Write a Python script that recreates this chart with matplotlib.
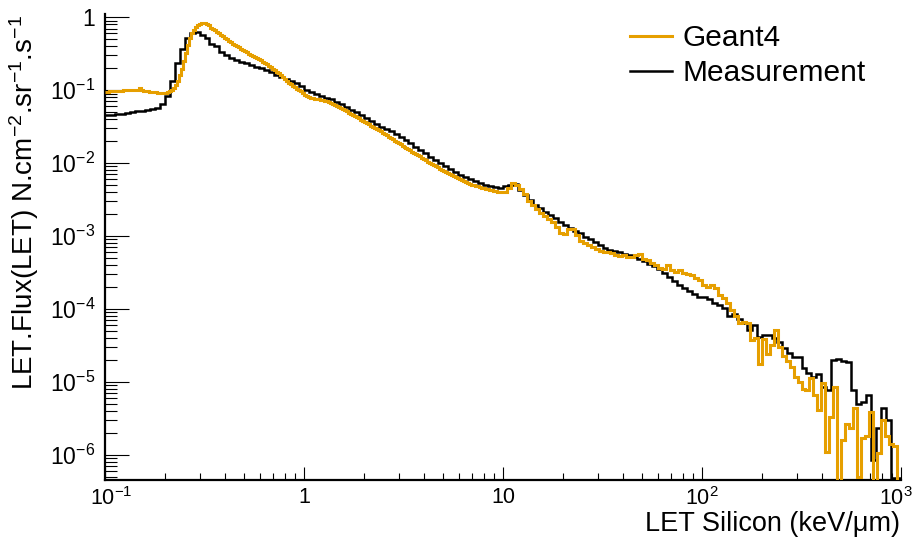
import numpy as np
import matplotlib
matplotlib.use("Agg")
import matplotlib.pyplot as plt
import matplotlib.transforms as mtransforms
from matplotlib.lines import Line2D
from matplotlib.ticker import FixedLocator, FixedFormatter, LogLocator, NullFormatter

plt.rcParams['font.family'] = ['Liberation Sans', 'DejaVu Sans']
plt.rcParams['mathtext.fontset'] = 'custom'
plt.rcParams['mathtext.rm'] = 'Liberation Sans'
plt.rcParams['mathtext.it'] = 'Liberation Sans:italic'
plt.rcParams['mathtext.bf'] = 'Liberation Sans:bold'

# ---------------- data ----------------
series_names = ["Geant4", "Measurement"]
x_label = "LET Silicon (keV/μm)"
y_label = "LET.Flux(LET) N.cm$^{-2}$.sr$^{-1}$.s$^{-1}$"

x_tick_values = [0.1, 1, 10, 100, 1000]
x_tick_labels = ["$10^{-1}$", "1", "10", "$10^{2}$", "$10^{3}$"]
y_tick_values = [1e-6, 1e-5, 1e-4, 1e-3, 1e-2, 1e-1, 1]
y_tick_labels = ["$10^{-6}$", "$10^{-5}$", "$10^{-4}$", "$10^{-3}$", "$10^{-2}$", "$10^{-1}$", "1"]

# histogram binning (LET range, log-spaced bins)
let_min, let_mid, let_max = 0.1, 10.0, 1000.0
meas_bins_per_decade = 40
g4_bins_per_decade_low = 100   # 0.1 - 10 keV/um
g4_bins_per_decade_high = 50   # 10 - 1000 keV/um

# Measurement: bin contents, one list per decade of LET
meas_dec1 = [4.57e-2, 4.62e-2, 4.68e-2, 4.79e-2, 4.90e-2, 5.01e-2, 5.13e-2, 5.25e-2, 5.37e-2, 5.50e-2,
             5.69e-2, 6.46e-2, 8.32e-2, 1.32e-1, 2.34e-1, 3.63e-1, 5.13e-1, 6.17e-1, 6.31e-1, 5.75e-1,
             5.13e-1, 4.37e-1, 3.98e-1, 3.39e-1, 3.05e-1, 2.75e-1, 2.60e-1, 2.45e-1, 2.34e-1, 2.21e-1,
             2.09e-1, 2.00e-1, 1.88e-1, 1.76e-1, 1.62e-1, 1.53e-1, 1.43e-1, 1.33e-1, 1.24e-1, 1.15e-1]
meas_dec2 = [1.00e-1, 9.33e-2, 8.81e-2, 8.32e-2, 7.94e-2, 7.50e-2, 6.92e-2, 6.38e-2, 5.89e-2, 5.43e-2,
             5.01e-2, 4.62e-2, 4.17e-2, 3.80e-2, 3.47e-2, 3.16e-2, 2.95e-2, 2.72e-2, 2.48e-2, 2.26e-2,
             2.07e-2, 1.86e-2, 1.68e-2, 1.51e-2, 1.36e-2, 1.23e-2, 1.11e-2, 1.01e-2, 9.12e-3, 8.32e-3,
             7.59e-3, 6.92e-3, 6.38e-3, 5.96e-3, 5.62e-3, 5.31e-3, 5.01e-3, 4.84e-3, 4.68e-3, 4.52e-3]
meas_dec3 = [4.79e-3, 5.01e-3, 5.19e-3, 4.27e-3, 3.67e-3, 3.16e-3, 2.66e-3, 2.40e-3, 2.16e-3, 1.95e-3,
             1.75e-3, 1.58e-3, 1.41e-3, 1.29e-3, 1.18e-3, 1.09e-3, 9.77e-4, 8.99e-4, 8.18e-4, 7.45e-4,
             6.92e-4, 6.50e-4, 6.24e-4, 5.98e-4, 5.74e-4, 5.50e-4, 5.16e-4, 4.84e-4, 4.50e-4, 4.17e-4,
             3.89e-4, 3.50e-4, 3.09e-4, 2.77e-4, 2.45e-4, 2.14e-4, 1.92e-4, 1.74e-4, 1.58e-4, 1.45e-4]
meas_dec4 = [1.47e-4, 1.37e-4, 1.19e-4, 1.13e-4, 1.02e-4, 7.94e-5, 8.51e-5, 7.19e-5, 6.31e-5, 5.13e-5,
             6.03e-5, 4.17e-5, 4.37e-5, 4.37e-5, 3.98e-5, 3.55e-5, 2.88e-5, 2.45e-5, 2.21e-5, 2.19e-5,
             1.55e-5, 1.32e-5, 1.17e-5, 1.26e-5, 8.50e-6, 7.80e-6, 2.00e-5, 2.04e-5, 1.95e-5, 1.86e-5,
             7.76e-6, 5.01e-6, 5.25e-6, 6.61e-6, 8.51e-7, 2.29e-6, 4.37e-6, 3.02e-6, 4.80e-7, 4.80e-7]

# Geant4: bin contents, one list per decade of LET (0 = empty bin)
g4_dec1 = [0.0933, 0.0959, 0.0966, 0.0973, 0.0977, 0.0979, 0.0982, 0.0984, 0.0989, 0.0991,
           0.0995, 0.1000, 0.1002, 0.1005, 0.1007, 0.1007, 0.1007, 0.1060, 0.1005, 0.0989,
           0.0977, 0.0966, 0.0955, 0.0948, 0.0942, 0.0935, 0.0929, 0.0925, 0.0923, 0.0923,
           0.0925, 0.0944, 0.0977, 0.1016, 0.1080, 0.1190, 0.1350, 0.1620, 0.1970, 0.2540,
           0.3270, 0.4220, 0.5130, 0.6100, 0.6760, 0.7280, 0.7760, 0.8090, 0.8320, 0.8410,
           0.8360, 0.8130, 0.7760, 0.7240, 0.6950, 0.6640, 0.6310, 0.6030, 0.5750, 0.5500,
           0.5250, 0.5010, 0.4760, 0.4540, 0.4350, 0.4170, 0.4030, 0.3870, 0.3720, 0.3570,
           0.3430, 0.3300, 0.3180, 0.3050, 0.2940, 0.2840, 0.2750, 0.2650, 0.2560, 0.2460,
           0.2370, 0.2260, 0.2160, 0.2060, 0.1960, 0.1870, 0.1790, 0.1710, 0.1600, 0.1500,
           0.1410, 0.1340, 0.1270, 0.1220, 0.1160, 0.1100, 0.1050, 0.1010, 0.0966, 0.0925]
g4_dec2 = [0.0871, 0.0841, 0.0817, 0.0794, 0.0780, 0.0767, 0.0759, 0.0750, 0.0741, 0.0731,
           0.0721, 0.0708, 0.0692, 0.0673, 0.0655, 0.0634, 0.0614, 0.0594, 0.0573, 0.0551,
           0.0531, 0.0511, 0.0492, 0.0474, 0.0458, 0.0442, 0.0427, 0.0411, 0.0396, 0.0381,
           0.0367, 0.0353, 0.0340, 0.0328, 0.0317, 0.0305, 0.0295, 0.0284, 0.0273, 0.0261,
           0.0251, 0.0240, 0.0230, 0.0221, 0.0212, 0.0203, 0.0195, 0.0187, 0.0180, 0.0173,
           0.0167, 0.0161, 0.0155, 0.0149, 0.0144, 0.0139, 0.0134, 0.0129, 0.0124, 0.0119,
           0.0114, 0.0109, 0.0105, 0.0101, 0.00975, 0.00940, 0.00908, 0.00875, 0.00843, 0.00811,
           0.00782, 0.00752, 0.00724, 0.00701, 0.00679, 0.00658, 0.00637, 0.00617, 0.00598, 0.00579,
           0.00562, 0.00546, 0.00528, 0.00518, 0.00508, 0.00498, 0.00489, 0.00479, 0.00470, 0.00461,
           0.00453, 0.00445, 0.00437, 0.00431, 0.00425, 0.00419, 0.00413, 0.00407, 0.00403, 0.00398]
g4_dec3 = [3.98e-3, 4.52e-3, 5.28e-3, 5.07e-3, 4.37e-3, 3.72e-3, 3.05e-3, 2.66e-3, 2.37e-3, 2.09e-3,
           1.86e-3, 1.72e-3, 1.58e-3, 1.32e-3, 1.11e-3, 1.07e-3, 1.23e-3, 1.26e-3, 1.02e-3, 8.51e-4,
           7.94e-4, 7.59e-4, 7.16e-4, 6.68e-4, 6.31e-4, 6.10e-4, 5.96e-4, 5.82e-4, 5.43e-4, 5.37e-4,
           5.50e-4, 5.13e-4, 5.13e-4, 5.50e-4, 5.62e-4, 4.79e-4, 4.62e-4, 4.27e-4, 3.98e-4, 3.59e-4,
           3.51e-4, 3.98e-4, 3.43e-4, 3.24e-4, 3.43e-4, 3.13e-4, 3.02e-4, 2.92e-4, 2.63e-4, 2.51e-4]
g4_dec4 = [2.14e-4, 2.00e-4, 2.13e-4, 1.91e-4, 1.55e-4, 1.41e-4, 1.22e-4, 9.66e-5, 7.94e-5, 6.46e-5,
           6.61e-5, 6.31e-5, 3.80e-5, 3.98e-5, 1.78e-5, 3.89e-5, 2.40e-5, 3.16e-5, 5.13e-5, 3.02e-5,
           2.29e-5, 1.95e-5, 1.58e-5, 1.15e-5, 1.00e-5, 7.90e-6, 7.80e-6, 1.12e-5, 6.60e-6, 4.10e-6,
           9.50e-6, 1.10e-6, 3.30e-6, 8.50e-6, 0.0, 1.60e-6, 2.60e-6, 2.30e-6, 4.40e-6, 5.00e-7,
           1.70e-6, 1.80e-6, 3.90e-6, 0.0, 1.05e-6, 3.00e-6, 1.80e-6, 1.40e-6, 1.30e-6, 0.0]

# ---------------- assemble ----------------
meas_vals = np.array(meas_dec1 + meas_dec2 + meas_dec3 + meas_dec4)
g4_vals = np.array(g4_dec1 + g4_dec2 + g4_dec3 + g4_dec4)
lo, mid, hi = np.log10(let_min), np.log10(let_mid), np.log10(let_max)
meas_edges = np.logspace(lo, hi, int(round((hi - lo) * meas_bins_per_decade)) + 1)
g4_edges = np.concatenate([
    np.logspace(lo, mid, int(round((mid - lo) * g4_bins_per_decade_low)) + 1),
    np.logspace(mid, hi, int(round((hi - mid) * g4_bins_per_decade_high)) + 1)[1:],
])

# empty bins are drawn down to the axis, as ROOT does
floor = 1e-12
g4_plot = np.where(g4_vals > 0, g4_vals, floor)
meas_plot = np.where(meas_vals > 0, meas_vals, floor)

# ---------------- figure ----------------
W, H = 917, 542
fig = plt.figure(figsize=(W / 100, H / 100), dpi=100)
ax = fig.add_axes([105 / W, 1 - 480 / H, (901 - 105) / W, (480 - 14) / H])

orange = "#E69F00"
ax.stairs(meas_plot, meas_edges, color="black", linewidth=1.8, baseline=None, zorder=3)
ax.stairs(g4_plot, g4_edges, color=orange, linewidth=2.2, baseline=None, zorder=4)

ax.set_xscale("log")
ax.set_yscale("log")
ax.set_xlim(let_min, let_max)
ax.set_ylim(4.5e-7, 1.11)

for s in ["top", "right"]:
    ax.spines[s].set_visible(False)
for s in ["left", "bottom"]:
    ax.spines[s].set_linewidth(1.6)

ax.xaxis.set_major_locator(FixedLocator(x_tick_values))
ax.xaxis.set_major_formatter(FixedFormatter(x_tick_labels))
ax.xaxis.set_minor_locator(LogLocator(base=10, subs=np.arange(2, 10), numticks=20))
ax.xaxis.set_minor_formatter(NullFormatter())
ax.yaxis.set_major_locator(FixedLocator(y_tick_values))
ax.yaxis.set_major_formatter(FixedFormatter(y_tick_labels))
ax.yaxis.set_minor_locator(LogLocator(base=10, subs=np.arange(2, 10), numticks=20))
ax.yaxis.set_minor_formatter(NullFormatter())

ax.tick_params(axis="x", which="major", direction="in", length=9.5, width=0.8, labelsize=15.5, pad=5)
ax.tick_params(axis="x", which="minor", direction="in", length=5, width=0.8)
ax.tick_params(axis="y", which="major", direction="in", length=17, width=0.8, labelsize=16.5, pad=7)
ax.tick_params(axis="y", which="minor", direction="in", length=8.5, width=0.8)
ax.tick_params(top=False, right=False, which="both")

# nudge the first/last x tick labels so they stay inside the figure
xt = ax.get_xticklabels()
xt[-1].set_transform(xt[-1].get_transform() + mtransforms.ScaledTranslation(-0.05, 0, fig.dpi_scale_trans))
xt[0].set_transform(xt[0].get_transform() + mtransforms.ScaledTranslation(0.06, 0, fig.dpi_scale_trans))

fig.text(900 / W, 1 - 524 / H, x_label, ha="right", va="center", fontsize=19.5)
fig.text(24 / W, 1 - 15 / H, y_label, ha="center", va="top", rotation=90, fontsize=20)

handles = [Line2D([], [], color=orange, lw=2.2), Line2D([], [], color="black", lw=1.8)]
fig.legend(handles, series_names, loc="upper left", bbox_to_anchor=(630 / W, 1 - 24 / H),
           frameon=False, fontsize=21.5, handlelength=1.4, handletextpad=0.37,
           labelspacing=0.25, borderpad=0, borderaxespad=0)

fig.savefig("out.png", dpi=100)
